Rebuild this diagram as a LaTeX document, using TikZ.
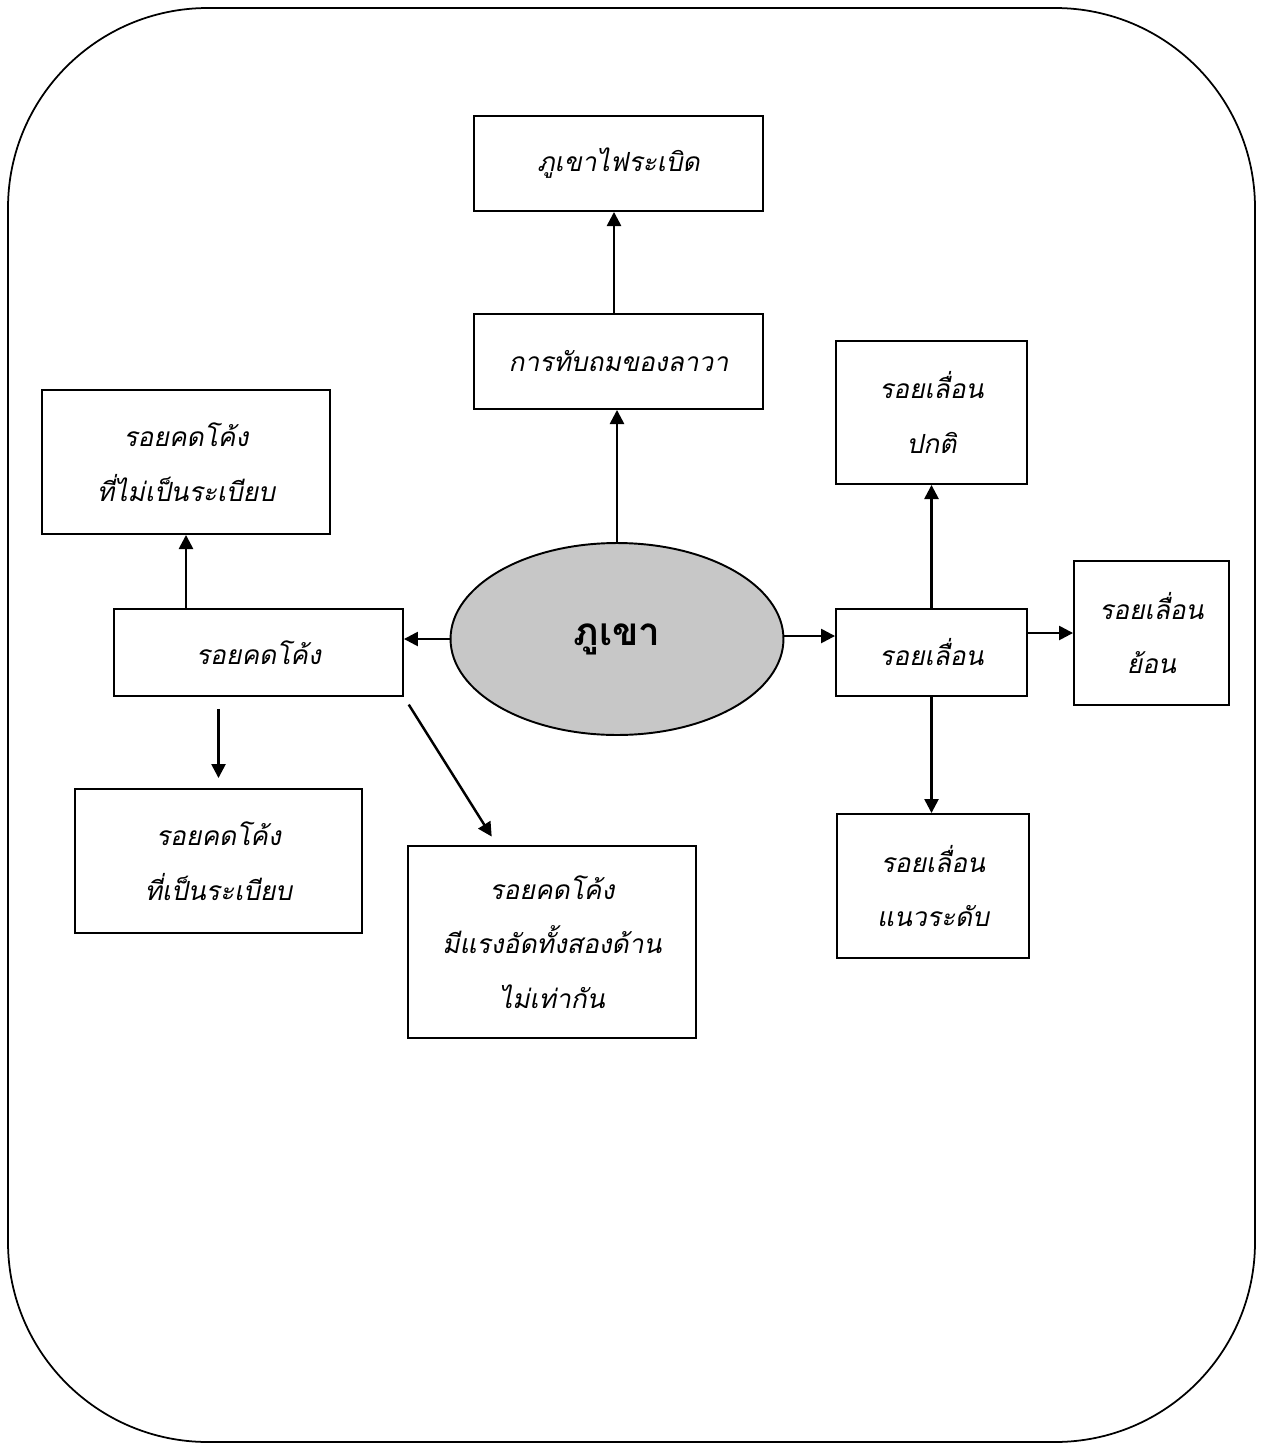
\documentclass[tikz,border=0pt]{standalone}
\usepackage{fontspec}
\usetikzlibrary{arrows.meta,shapes.geometric}
\newfontfamily\thaifont[Script=Thai]{Loma}
\newfontfamily\thaiit[Script=Thai,FakeSlant=0.2]{Loma}
\begin{document}
\begin{tikzpicture}[x=0.02cm,y=-0.02cm,
	box/.style={draw,line width=1.1pt,align=center,inner sep=0pt,
		font=\thaiit\fontsize{15}{31}\selectfont},
	arr/.style={line width=1.4pt,-{Triangle[length=8pt,width=8pt]}}]
			\useasboundingbox (0,0) rectangle (1267,1446);
			\draw[line width=1pt,rounded corners=4cm] (8,8) rectangle (1255,1442);
			
			\node[draw,line width=1.1pt,ellipse,fill=black!22,minimum width=6.66cm,minimum height=3.84cm,
				font=\thaifont\bfseries\fontsize{22}{26}\selectfont] (main) at (617,639) {ภูเขา};
			\node[box,minimum width=5.78cm,minimum height=1.9cm] (volc) at (618.5,163.5) {ภูเขาไฟระเบิด};
			\node[box,minimum width=5.78cm,minimum height=1.9cm] (lava) at (618.5,361.5) {การทับถมของลาวา};
			\node[box,minimum width=5.78cm,minimum height=1.74cm] (fold) at (258.5,652.5) {รอยคดโค้ง};
			\node[box,minimum width=5.76cm,minimum height=2.88cm] (foldirr) at (186,462) {รอยคดโค้ง\\ที่ไม่เป็นระเบียบ};
			\node[box,minimum width=5.74cm,minimum height=2.88cm] (foldreg) at (218.5,861) {รอยคดโค้ง\\ที่เป็นระเบียบ};
			\node[box,minimum width=5.76cm,minimum height=3.84cm] (foldasym) at (552,942) {รอยคดโค้ง\\มีแรงอัดทั้งสองด้าน\\ไม่เท่ากัน};
			\node[box,minimum width=3.82cm,minimum height=1.74cm] (fault) at (931.5,652.5) {รอยเลื่อน};
			\node[box,minimum width=3.82cm,minimum height=2.86cm] (normal) at (931.5,412.5) {รอยเลื่อน\\ปกติ};
			\node[box,minimum width=3.1cm,minimum height=2.88cm] (reverse) at (1151.5,633) {รอยเลื่อน\\ย้อน};
			\node[box,minimum width=3.84cm,minimum height=2.88cm] (strike) at (933,886) {รอยเลื่อน\\แนวระดับ};
			
			\draw[arr] ([xshift=-0.09cm]lava.north) -- ([xshift=-0.09cm]volc.south);
			\draw[arr] (main.north) -- (main.north |- lava.south);
			\draw[arr] (main.west) -- (main.west -| fold.east);
			\draw[arr] ([yshift=0.06cm]main.east) -- ([yshift=0.06cm]main.east -| fault.west);
			\draw[arr] (foldirr.south |- fold.north) -- (foldirr.south);
			\draw[arr,shorten <=0.24cm,shorten >=0.2cm] (foldreg.north |- fold.south) -- (foldreg.north);
			\draw[arr,shorten <=0.18cm,shorten >=0.2cm] (fold.south east) -- ([xshift=1.8cm]foldasym.north west);
			\draw[arr] (fault.north) -- (normal.south);
			\draw[arr] (fault.east |- reverse.west) -- (reverse.west);
			\draw[arr] (fault.south) -- (fault.south |- strike.north);
		\end{tikzpicture}
\end{document}
